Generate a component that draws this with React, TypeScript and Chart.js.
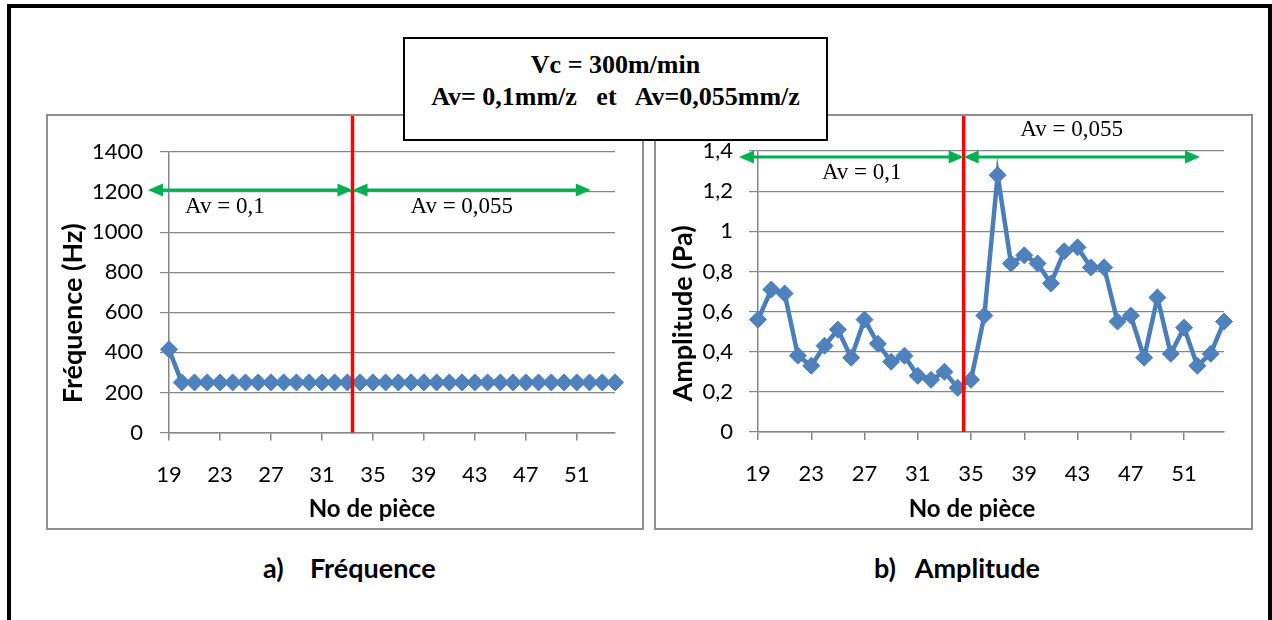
import React, { useEffect, useRef } from "react";
import { Chart, registerables } from "chart.js";

Chart.register(...registerables);

// ---------- data ----------
const pieces = [
  "19", "20", "21", "22", "23", "24", "25", "26", "27", "28", "29", "30",
  "31", "32", "33", "34", "35", "36", "37", "38", "39", "40", "41", "42",
  "43", "44", "45", "46", "47", "48", "49", "50", "51", "52", "53", "54",
];

const frequence = [
  415, 250, 250, 250, 250, 250, 250, 250, 250, 250, 250, 250,
  250, 250, 250, 250, 250, 250, 250, 250, 250, 250, 250, 250,
  250, 250, 250, 250, 250, 250, 250, 250, 250, 250, 250, 250,
];

const amplitude = [
  0.56, 0.71, 0.69, 0.38, 0.33, 0.43, 0.51, 0.37, 0.56, 0.44, 0.35, 0.38,
  0.28, 0.26, 0.30, 0.22, 0.26, 0.58, 1.28, 0.84, 0.88, 0.84, 0.74, 0.90,
  0.92, 0.82, 0.82, 0.55, 0.58, 0.37, 0.67, 0.39, 0.52, 0.33, 0.39, 0.55,
];

const freqTickLabels = ["0", "200", "400", "600", "800", "1000", "1200", "1400"];
const ampTickLabels = ["0", "0,2", "0,4", "0,6", "0,8", "1", "1,2", "1,4"];

// divider position (category index) and Av annotations
const freqDivider = 14.4;
const ampDivider = 15.45;

const freqArrows = [
  { from: -1.65, to: 14.4, y: 1210 },
  { from: 14.4, to: 33.1, y: 1210 },
];
const ampArrows = [
  { from: -1.43, to: 15.45, y: 1.37 },
  { from: 15.45, to: 33.2, y: 1.37 },
];
const freqNotes = [
  { text: "Av = 0,1", x: 1.26, y: 1127 },
  { text: "Av = 0,055", x: 18.95, y: 1127 },
];
const ampNotes = [
  { text: "Av = 0,1", x: 4.8, y: 1.29 },
  { text: "Av = 0,055", x: 19.7, y: 1.505 },
];

// ---------- styles ----------
const GRAY = "#868686";
const BLUE_LINE = "#4A7EBB";
const BLUE_FILL = "#4F81BD";
const GREEN = "#00B050";
const SANS = "Lato, 'Open Sans', sans-serif";
const SERIF = "'Liberation Serif', 'DejaVu Serif', serif";

const overlayPlugin = {
  id: "overlay",
  afterDraw(chart: any, _args: any, o: any) {
    const { ctx, chartArea } = chart;
    const xs = chart.scales.x;
    const ys = chart.scales.y;
    ctx.save();

    // red divider
    const dx = xs.getPixelForValue(o.divider);
    ctx.strokeStyle = "#FF0000";
    ctx.lineWidth = 3.5;
    ctx.beginPath();
    ctx.moveTo(dx, 0);
    ctx.lineTo(dx, chartArea.bottom);
    ctx.stroke();

    // green double arrows
    const head = 15;
    const hw = 6.5;
    ctx.strokeStyle = GREEN;
    ctx.fillStyle = GREEN;
    ctx.lineWidth = 3;
    for (const a of o.arrows) {
      const x1 = xs.getPixelForValue(a.from);
      const x2 = xs.getPixelForValue(a.to);
      const yy = ys.getPixelForValue(a.y);
      ctx.beginPath();
      ctx.moveTo(x1 + head - 1, yy);
      ctx.lineTo(x2 - head + 1, yy);
      ctx.stroke();
      ctx.beginPath();
      ctx.moveTo(x1, yy);
      ctx.lineTo(x1 + head, yy - hw);
      ctx.lineTo(x1 + head, yy + hw);
      ctx.closePath();
      ctx.fill();
      ctx.beginPath();
      ctx.moveTo(x2, yy);
      ctx.lineTo(x2 - head, yy - hw);
      ctx.lineTo(x2 - head, yy + hw);
      ctx.closePath();
      ctx.fill();
    }

    // Av notes
    ctx.fillStyle = "#000";
    ctx.font = `23px ${SERIF}`;
    ctx.textAlign = "left";
    ctx.textBaseline = "middle";
    for (const n of o.notes) {
      ctx.fillText(n.text, xs.getPixelForValue(n.x), ys.getPixelForValue(n.y));
    }

    // axis titles
    ctx.textAlign = "center";
    ctx.textBaseline = "middle";
    ctx.font = `bold 24px ${SANS}`;
    ctx.fillText(o.xTitle, (chartArea.left + chartArea.right) / 2 + o.xTitleDx, o.xTitleY);
    ctx.save();
    ctx.font = `bold 27px ${SANS}`;
    ctx.translate(o.yTitleX, (chartArea.top + chartArea.bottom) / 2 + o.yTitleDy);
    ctx.rotate(-Math.PI / 2);
    ctx.fillText(o.yTitle, 0, 0);
    ctx.restore();

    ctx.restore();
  },
};

type PanelProps = {
  left: number;
  top: number;
  width: number;
  height: number;
  values: number[];
  yMax: number;
  yStep: number;
  yTickLabels: string[];
  divider: number;
  arrows: { from: number; to: number; y: number }[];
  notes: { text: string; x: number; y: number }[];
  yTitle: string;
  xTitle: string;
  padTop: number;
  padRight: number;
  yAxisWidth: number;
  xAxisHeight: number;
  yTickPad: number;
  yTitleX: number;
  yTitleDy: number;
  xTitleDx: number;
  xTitleY: number;
};

function Panel(p: PanelProps) {
  const ref = useRef<HTMLCanvasElement | null>(null);
  useEffect(() => {
    if (!ref.current) return;
    const chart = new Chart(ref.current, {
      type: "line",
      data: {
        labels: pieces,
        datasets: [
          {
            data: p.values,
            borderColor: BLUE_LINE,
            backgroundColor: BLUE_FILL,
            borderWidth: 4.5,
            pointStyle: "rectRot",
            pointRadius: 8.5,
            pointBorderWidth: 1,
            pointBorderColor: BLUE_LINE,
            pointBackgroundColor: BLUE_FILL,
            tension: 0,
          },
        ],
      },
      options: {
        animation: false,
        responsive: false,
        maintainAspectRatio: false,
        layout: { padding: { left: 0, right: p.padRight, top: p.padTop, bottom: 0 } },
        plugins: {
          legend: { display: false },
          tooltip: { enabled: false },
          overlay: {
            divider: p.divider,
            arrows: p.arrows,
            notes: p.notes,
            xTitle: p.xTitle,
            yTitle: p.yTitle,
            yTitleX: p.yTitleX,
            yTitleDy: p.yTitleDy,
            xTitleDx: p.xTitleDx,
            xTitleY: p.xTitleY,
          },
        } as any,
        scales: {
          x: {
            type: "category",
            offset: false,
            grid: {
              drawOnChartArea: false,
              drawTicks: true,
              tickLength: 8,
              lineWidth: 1.5,
              color: (c: any) => (c.index % 4 === 0 ? GRAY : "rgba(0,0,0,0)"),
            },
            border: { color: GRAY, width: 1.5 },
            ticks: {
              autoSkip: false,
              maxRotation: 0,
              minRotation: 0,
              padding: 21,
              color: "#000",
              font: { family: SANS, size: 22 },
              callback: (_v: any, i: number) => (i % 4 === 0 ? pieces[i] : ""),
            },
            afterFit: (s: any) => {
              s.height = p.xAxisHeight;
            },
          },
          y: {
            min: 0,
            max: p.yMax,
            grid: { color: GRAY, lineWidth: 1.2, tickLength: 9 },
            border: { color: GRAY, width: 1.5 },
            ticks: {
              stepSize: p.yStep,
              padding: p.yTickPad,
              color: "#000",
              font: { family: SANS, size: 22 },
              callback: (v: any) => p.yTickLabels[Math.round(Number(v) / p.yStep)],
            },
            afterFit: (s: any) => {
              s.width = p.yAxisWidth;
            },
          },
        },
      } as any,
      plugins: [overlayPlugin as any],
    });
    return () => chart.destroy();
  }, []);

  return (
    <div
      style={{
        position: "absolute",
        left: p.left,
        top: p.top,
        width: p.width,
        height: p.height,
        border: "2px solid #8E8E8E",
        background: "#fff",
      }}
    >
      <canvas ref={ref} width={p.width} height={p.height} style={{ display: "block", width: p.width, height: p.height }} />
    </div>
  );
}

const captionStyle: React.CSSProperties = {
  position: "absolute",
  top: 552,
  fontFamily: SANS,
  fontWeight: "bold",
  fontSize: 27,
  lineHeight: "32px",
  whiteSpace: "pre",
  color: "#000",
};

export default function App() {
  return (
    <div
      style={{
        position: "absolute",
        left: 0,
        top: 0,
        width: 1272,
        height: 620,
        overflow: "hidden",
        background: "#fff",
      }}
    >
      {/* outer frame */}
      <div
        style={{
          position: "absolute",
          left: 7,
          top: 4,
          width: 1257,
          height: 700,
          borderLeft: "4px solid #000",
          borderTop: "4px solid #000",
          borderRight: "4px solid #000",
        }}
      />

      <Panel
        left={46}
        top={114}
        width={594}
        height={412}
        values={frequence}
        yMax={1400}
        yStep={200}
        yTickLabels={freqTickLabels}
        divider={freqDivider}
        arrows={freqArrows}
        notes={freqNotes}
        yTitle="Fréquence (Hz)"
        xTitle="No de pièce"
        padTop={36}
        padRight={27}
        yAxisWidth={121}
        xAxisHeight={95.5}
        yTickPad={17}
        yTitleX={25}
        yTitleDy={21}
        xTitleDx={-20}
        xTitleY={393}
      />
      <Panel
        left={654}
        top={114}
        width={595}
        height={412}
        values={amplitude}
        yMax={1.4}
        yStep={0.2}
        yTickLabels={ampTickLabels}
        divider={ampDivider}
        arrows={ampArrows}
        notes={ampNotes}
        yTitle="Amplitude (Pa)"
        xTitle="No de pièce"
        padTop={35}
        padRight={27}
        yAxisWidth={102}
        xAxisHeight={96}
        yTickPad={16}
        yTitleX={27}
        yTitleDy={22}
        xTitleDx={-19}
        xTitleY={393}
      />

      {/* title box */}
      <div
        style={{
          position: "absolute",
          left: 403,
          top: 37,
          width: 421,
          height: 90,
          border: "2.5px solid #000",
          background: "#fff",
          fontFamily: SERIF,
          fontWeight: "bold",
          fontSize: 26,
          lineHeight: "32px",
          textAlign: "center",
          color: "#000",
          paddingTop: 10,
          boxSizing: "content-box",
          whiteSpace: "pre",
        }}
      >
        <div>Vc = 300m/min</div>
        <div>{"Av= 0,1mm/z   et   Av=0,055mm/z"}</div>
      </div>

      {/* captions */}
      <div style={{ ...captionStyle, left: 263 }}>{"a)    Fréquence"}</div>
      <div style={{ ...captionStyle, left: 874 }}>{"b)   Amplitude"}</div>
    </div>
  );
}
